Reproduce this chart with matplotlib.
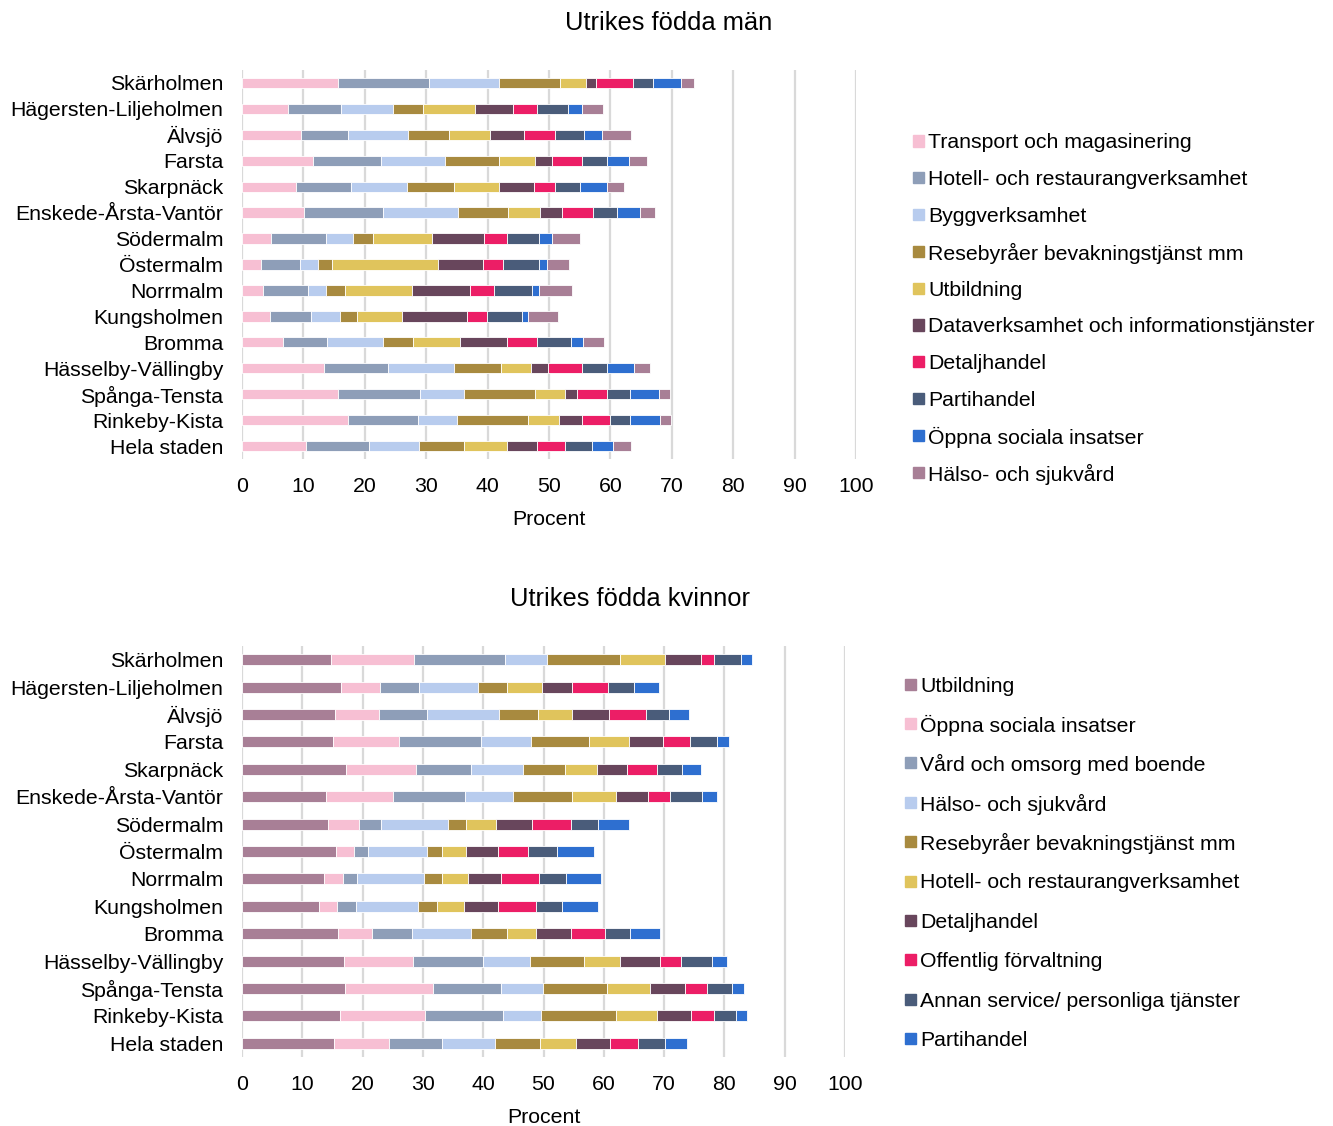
import matplotlib.pyplot as plt
from matplotlib.patches import Rectangle

plt.rcParams['font.family'] = ['Liberation Sans', 'DejaVu Sans']

# Stadsdelar, uppifrån och ner
districts = ['Skärholmen', 'Hägersten-Liljeholmen', 'Älvsjö', 'Farsta', 'Skarpnäck',
             'Enskede-Årsta-Vantör', 'Södermalm', 'Östermalm', 'Norrmalm', 'Kungsholmen',
             'Bromma', 'Hässelby-Vällingby', 'Spånga-Tensta', 'Rinkeby-Kista', 'Hela staden']

# Utrikes födda män (procent)
m_transport = [15.7, 7.5, 9.6, 11.5, 8.8, 10.1, 4.7, 3.1, 3.4, 4.6, 6.7, 13.4, 15.7, 17.2, 10.4]
m_hotell = [14.8, 8.7, 7.7, 11.1, 8.9, 12.8, 8.9, 6.3, 7.3, 6.7, 7.1, 10.4, 13.3, 11.5, 10.3]
m_bygg = [11.3, 8.4, 9.7, 10.5, 9.2, 12.2, 4.5, 2.9, 3.0, 4.7, 9.2, 10.8, 7.2, 6.3, 8.2]
m_resebyra = [10.0, 4.8, 6.7, 8.8, 7.6, 8.2, 3.2, 2.3, 3.0, 2.8, 4.8, 7.6, 11.6, 11.6, 7.2]
m_utbildning = [4.2, 8.5, 6.7, 5.8, 7.4, 5.3, 9.6, 17.3, 11.0, 7.2, 7.7, 4.9, 4.8, 5.1, 7.0]
m_data = [1.7, 6.3, 5.6, 2.8, 5.7, 3.5, 8.5, 7.4, 9.5, 10.7, 7.7, 2.8, 1.9, 3.6, 5.0]
m_detalj = [6.0, 3.9, 4.9, 4.9, 3.3, 5.0, 3.8, 3.2, 3.8, 3.2, 4.9, 5.4, 4.9, 4.6, 4.5]
m_parti = [3.3, 5.0, 4.8, 4.0, 4.1, 3.9, 5.2, 5.8, 6.2, 5.7, 5.5, 4.2, 3.8, 3.3, 4.4]
m_oppna = [4.5, 2.3, 3.0, 3.7, 4.4, 3.9, 2.1, 1.3, 1.1, 1.0, 2.0, 4.4, 4.7, 4.8, 3.4]
m_halso = [2.1, 3.4, 4.6, 2.8, 2.8, 2.3, 4.5, 3.7, 5.4, 4.9, 3.3, 2.5, 1.8, 1.8, 2.9]

# Utrikes födda kvinnor (procent)
k_utbildning = [14.7, 16.4, 15.4, 15.1, 17.2, 14.0, 14.3, 15.6, 13.6, 12.7, 15.9, 16.9, 17.0, 16.2, 15.3]
k_oppna = [13.8, 6.5, 7.3, 11.0, 11.6, 11.0, 5.1, 2.9, 3.1, 3.0, 5.6, 11.4, 14.6, 14.1, 9.1]
k_vard = [15.1, 6.5, 8.0, 13.5, 9.2, 11.9, 3.7, 2.4, 2.3, 3.2, 6.7, 11.6, 11.3, 13.0, 8.8]
k_halso = [7.0, 9.7, 11.9, 8.4, 8.6, 8.1, 11.0, 9.8, 11.2, 10.3, 9.7, 7.9, 7.0, 6.3, 8.8]
k_resebyra = [12.1, 4.8, 6.5, 9.5, 7.0, 9.7, 3.1, 2.4, 2.9, 3.1, 6.1, 8.9, 10.6, 12.4, 7.5]
k_hotell = [7.4, 5.8, 5.7, 6.7, 5.2, 7.4, 5.0, 4.0, 4.4, 4.5, 4.8, 6.0, 7.1, 6.9, 5.9]
k_detalj = [6.0, 5.0, 6.0, 5.6, 5.1, 5.2, 5.9, 5.3, 5.5, 5.6, 5.8, 6.7, 5.9, 5.5, 5.6]
k_offentlig = [2.1, 6.0, 6.2, 4.5, 4.9, 3.7, 6.5, 5.1, 6.2, 6.4, 5.6, 3.4, 3.6, 3.9, 4.7]
k_annan = [4.5, 4.3, 3.8, 4.5, 4.2, 5.3, 4.5, 4.8, 4.5, 4.2, 4.2, 5.2, 4.2, 3.7, 4.5]
k_parti = [1.8, 4.2, 3.3, 2.0, 3.1, 2.5, 5.1, 6.1, 5.8, 6.0, 5.0, 2.5, 1.9, 1.7, 3.6]

m_labels = ['Transport och magasinering', 'Hotell- och restaurangverksamhet', 'Byggverksamhet',
            'Resebyråer bevakningstjänst mm', 'Utbildning', 'Dataverksamhet och informationstjänster',
            'Detaljhandel', 'Partihandel', 'Öppna sociala insatser', 'Hälso- och sjukvård']
k_labels = ['Utbildning', 'Öppna sociala insatser', 'Vård och omsorg med boende', 'Hälso- och sjukvård',
            'Resebyråer bevakningstjänst mm', 'Hotell- och restaurangverksamhet', 'Detaljhandel',
            'Offentlig förvaltning', 'Annan service/ personliga tjänster', 'Partihandel']

colors = ['#F7BFD3', '#8E9EB8', '#B8CCEE', '#A88A3F', '#E0C45C',
          '#68465C', '#EC1E66', '#4A5C7A', '#2E6FD0', '#A87F96']
k_colors = ['#A87F96', '#F7BFD3', '#8E9EB8', '#B8CCEE', '#A88A3F',
            '#E0C45C', '#68465C', '#EC1E66', '#4A5C7A', '#2E6FD0']

m_series = [m_transport, m_hotell, m_bygg, m_resebyra, m_utbildning,
            m_data, m_detalj, m_parti, m_oppna, m_halso]
k_series = [k_utbildning, k_oppna, k_vard, k_halso, k_resebyra,
            k_hotell, k_detalj, k_offentlig, k_annan, k_parti]

W, H = 1333, 1126
FS = 15.3


def stacked(ax, series, cols):
    y = list(range(len(districts)))
    left = [0.0] * len(districts)
    for vals, c in zip(series, cols):
        ax.barh(y, vals, left=left, height=0.4, color=c, edgecolor='white', linewidth=0.6, zorder=2)
        left = [a + b for a, b in zip(left, vals)]
    ax.set_yticks(y)
    ax.set_yticklabels(districts, fontsize=FS)
    ax.set_ylim(len(districts) - 0.5, -0.5)
    ax.set_xlim(0, 100)
    ax.set_xticks(range(0, 101, 10))
    ax.tick_params(axis='x', labelsize=FS, length=0, pad=13)
    ax.tick_params(axis='y', length=0, pad=13.5)
    ax.xaxis.grid(True, color='#d9d9d9', linewidth=1.6, zorder=0)
    ax.set_axisbelow(True)
    for s in ax.spines.values():
        s.set_visible(False)
    ax.set_xlabel('Procent', fontsize=FS, labelpad=10)


def legend(fig, labels, cols, x0, y0, dy, size):
    for i, (lab, c) in enumerate(zip(labels, cols)):
        yc = y0 + i * dy
        fig.add_artist(Rectangle((x0 / W, 1 - (yc + size / 2) / H), size / W, size / H,
                                 transform=fig.transFigure, color=c))
        fig.text((x0 + size + 4) / W, 1 - (yc + 2) / H, lab, fontsize=FS, va='center', ha='left')


fig = plt.figure(figsize=(W / 100, H / 100), dpi=100)

ax1 = fig.add_axes([242 / W, 1 - 459 / H, 614 / W, 389 / H])
stacked(ax1, m_series, colors)
ax2 = fig.add_axes([242 / W, 1 - 1057 / H, 603 / W, 411 / H])
stacked(ax2, k_series, k_colors)

fig.text(669 / W, 1 - 23 / H, 'Utrikes födda män', fontsize=18.4, ha='center', va='center')
fig.text(630 / W, 1 - 599 / H, 'Utrikes födda kvinnor', fontsize=18.4, ha='center', va='center')

legend(fig, m_labels, colors, 913, 141, 36.8, 11)
legend(fig, k_labels, k_colors, 905, 684, 39.4, 11)

fig.savefig('out.png', dpi=100)
